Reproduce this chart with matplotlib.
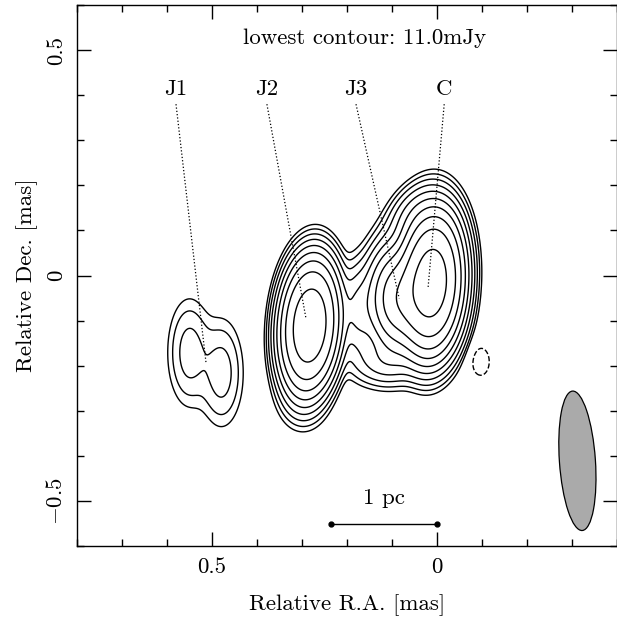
import numpy as np
import matplotlib
matplotlib.use("Agg")
import matplotlib.pyplot as plt
from matplotlib.patches import Ellipse

plt.rcParams['font.family'] = ['cmr10', 'DejaVu Serif']
plt.rcParams['mathtext.fontset'] = 'cm'
plt.rcParams['axes.formatter.use_mathtext'] = True

# model components of the map (offsets in mas, peaks in mJy/beam)
comp_names = ["C", "J3", "Jext", "Cbot", "bridge", "J2", "J2tail", "J1a", "J1b", "neg"]
comp_x = [0.012, 0.088, 0.061, 0.117, 0.174, 0.283, 0.30, 0.55, 0.479, -0.097]
comp_y = [-0.016, -0.051, 0.133, -0.189, -0.078, -0.111, -0.27, -0.171, -0.216, -0.191]
comp_peak = [7540, 2300, 150, 120, 200, 4100, 40, 62, 62, -16]
comp_sx = [0.0405, 0.031, 0.024, 0.04, 0.022, 0.040, 0.03, 0.026, 0.026, 0.022]
comp_sy = [0.091, 0.056, 0.04, 0.03, 0.053, 0.09, 0.04, 0.064, 0.064, 0.035]
comp_pa = [3, 0, 30, 0, 0, 4, 0, 0, 0, 0]
comp_shape = [2.55, 2.0, 2.0, 2.0, 2.0, 2.7, 2.0, 2.0, 2.0, 2.0]

levels = [-11, 11, 22, 44, 88, 176, 352, 704, 1408, 2816, 5632, 11264]

# feature labels and the points they mark
lab_names = ["J1", "J2", "J3", "C"]
lab_x = [0.58, 0.378, 0.18, -0.016]
lab_tip_x = [0.513, 0.291, 0.084, 0.02]
lab_tip_y = [-0.196, -0.096, -0.051, -0.029]

# restoring beam
beam_x, beam_y = -0.312, -0.411
beam_minor, beam_major, beam_pa = 0.08, 0.31, -4

# 1 pc scale bar
bar_x = [0.235, 0.0]
bar_y = -0.551

xg = np.linspace(0.85, -0.45, 600)
yg = np.linspace(-0.65, 0.65, 600)
X, Y = np.meshgrid(xg, yg)
Z = np.zeros_like(X)
for x0, y0, p, sx, sy, pa, k in zip(comp_x, comp_y, comp_peak, comp_sx,
                                     comp_sy, comp_pa, comp_shape):
    t = np.radians(pa)
    dx = X - x0
    dy = Y - y0
    u = dx * np.cos(t) + dy * np.sin(t)
    v = -dx * np.sin(t) + dy * np.cos(t)
    q = np.sqrt((u / sx) ** 2 + (v / sy) ** 2)
    Z += p * np.exp(-0.5 * q ** k)

fig = plt.figure(figsize=(6.17, 6.18), dpi=100)
ax = fig.add_axes([77 / 617, 72 / 618, 540 / 617, 541 / 618])

ax.contour(X, Y, Z, levels=levels, colors='k', linewidths=1.0,
           negative_linestyles='dashed')

for name, lx, tx, ty in zip(lab_names, lab_x, lab_tip_x, lab_tip_y):
    ax.text(lx, 0.413, name, ha='center', va='center', fontsize=16.5)
    ax.plot([lx, tx], [0.38, ty], color='k', ls=':', lw=0.9)

ax.add_patch(Ellipse((beam_x, beam_y), beam_minor, beam_major, angle=beam_pa,
                     facecolor='#aaaaaa', edgecolor='k', lw=0.9))

ax.plot(bar_x, [bar_y, bar_y], 'k-', lw=1.0, marker='o', markersize=3.5)
ax.text(np.mean(bar_x), -0.493, "1 pc", ha='center', va='center', fontsize=16.5)
ax.text(0.16, 0.527, "lowest contour: 11.0mJy", ha='center', va='center', fontsize=16.5)

ax.set_xlim(0.8, -0.4)
ax.set_ylim(-0.6, 0.6)
ax.set_xticks([0.5, 0])
ax.set_xticklabels(["0.5", "0"])
ax.set_yticks([0.5, 0, -0.5])
ax.set_yticklabels(["0.5", "0", r"$-$0.5"], rotation=90, va='center')
ax.set_xticks(np.arange(-0.4, 0.81, 0.1), minor=True)
ax.set_yticks(np.arange(-0.6, 0.61, 0.1), minor=True)
ax.tick_params(which='both', direction='in', top=True, right=True, labelsize=16.5, width=1.0)
ax.tick_params(which='major', length=10, pad=8)
ax.tick_params(which='minor', length=5)
for s in ax.spines.values():
    s.set_linewidth(1.0)
ax.set_xlabel("Relative R.A. [mas]", fontsize=16.5, va='center')
ax.xaxis.set_label_coords(0.5, -0.109)
ax.set_ylabel("Relative Dec. [mas]", fontsize=16.5, va='center')
ax.yaxis.set_label_coords(-0.093, 0.5)

fig.savefig("out.png", dpi=100)
